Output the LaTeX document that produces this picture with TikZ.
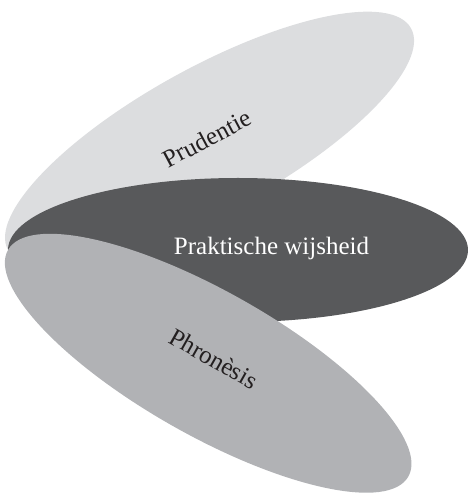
\documentclass[tikz,border=0pt]{standalone}
\usepackage{fontspec}
\setmainfont{Liberation Serif}
\usetikzlibrary{calc}
\definecolor{petallight}{HTML}{DCDDDF}
\definecolor{petaldark}{HTML}{58595B}
\definecolor{petalmid}{HTML}{B1B2B5}
\definecolor{inktext}{HTML}{231F20}
\tikzset{
  petal/.style={x radius=230pt, y radius=72pt},
  petallabel/.style={anchor=base, inner sep=0pt, font=\fontsize{25}{30}\selectfont}
}
\begin{document}
\begin{tikzpicture}
\useasboundingbox (0,0) rectangle (468pt,495pt);
\coordinate (P) at (8pt,245pt);
% top petal
\fill[petallight, rotate around={28.8:(P)}] ($(P)+(230pt,0)$) ellipse [petal];
% middle petal
\fill[petaldark] ($(P)+(230pt,0)$) ellipse [petal];
% bottom petal
\fill[petalmid, rotate around={-29.5:(P)}] ($(P)+(230pt,0)$) ellipse [petal];
% labels
\node[petallabel, text=inktext, rotate=28] (prud) at (211pt,349pt) {Prudentie};
\node[petallabel, text=white] (prak) at (271.5pt,240pt) {Praktische wijsheid};
\node[petallabel, text=inktext, rotate=-29.5] (phron) at (209.5pt,129pt) {Phronèsis};
\end{tikzpicture}
\end{document}
